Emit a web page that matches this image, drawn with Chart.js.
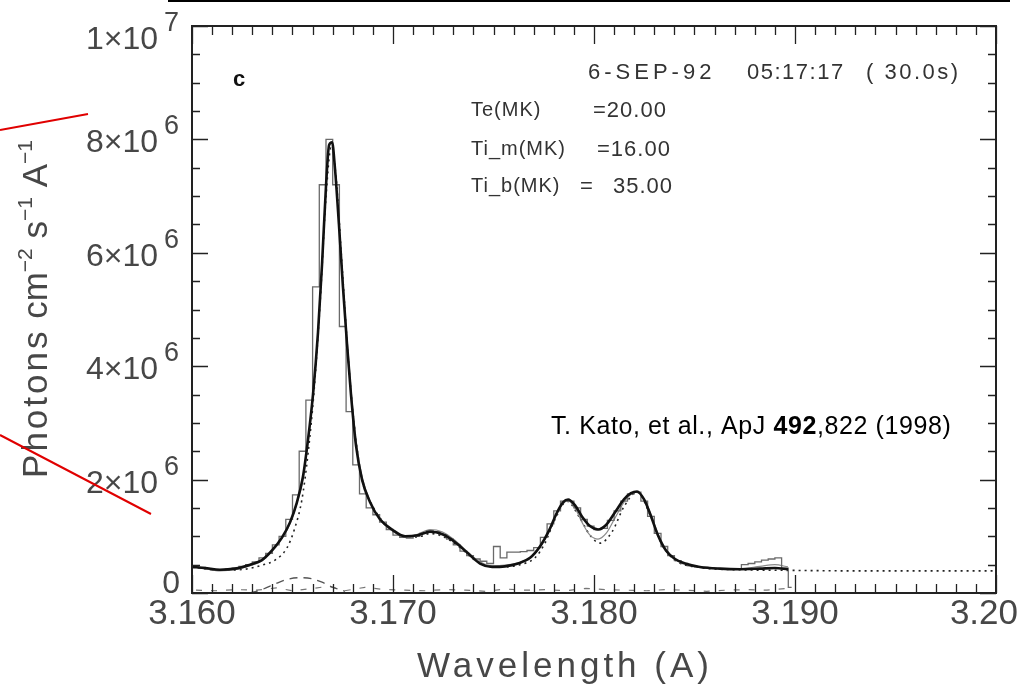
<!DOCTYPE html>
<html>
<head>
<meta charset="utf-8">
<title>Ca XIX spectrum</title>
<script src="https://cdn.jsdelivr.net/npm/chart.js@4"></script>
<style>
  body { margin: 0; background: #fff; }
  canvas { display: block; }
</style>
</head>
<body>
<canvas id="chart" width="1030" height="691"></canvas>
<script>
// flux values are in units of 10^6 photons cm-2 s-1 A-1

// observed spectrum, one value per wavelength bin
var binStart = 3.1600;
var binWidth = 1 / 3000;
var observed = [
  0.46, 0.45, 0.42, 0.40, 0.40, 0.42, 0.44, 0.47, 0.50, 0.55,
  0.62, 0.70, 0.85, 1.00, 1.30, 1.73, 2.50, 3.40, 5.40, 7.20,
  8.00, 7.20, 4.70, 3.20, 2.26, 1.75, 1.50, 1.38, 1.25, 1.12,
  1.02, 0.98, 0.97, 1.00, 1.05, 1.10, 1.08, 1.03, 0.95, 0.85,
  0.74, 0.66, 0.60, 0.56, 0.52, 0.82, 0.62, 0.72, 0.72, 0.73,
  0.75, 0.80, 0.98, 1.22, 1.45, 1.62, 1.62, 1.50, 1.30, 1.18,
  1.12, 1.14, 1.28, 1.45, 1.62, 1.75, 1.78, 1.62, 1.35, 1.05,
  0.82, 0.66, 0.57, 0.52, 0.48, 0.46, 0.45, 0.44, 0.43, 0.42,
  0.42, 0.42, 0.50, 0.52, 0.55, 0.58, 0.60, 0.62, 0.44, 0.10
];

// fitted model (thick) and the second model (thin), same wavelength grid
var modelWave = [
  3.16000, 3.16065, 3.16139, 3.16214, 3.16289, 3.16348, 3.16398, 3.16448, 3.16488, 3.16522,
  3.16552, 3.16577, 3.16602, 3.16627, 3.16647, 3.16667, 3.16682, 3.16697, 3.16711, 3.16731,
  3.16751, 3.16771, 3.16791, 3.16816, 3.16846, 3.16886, 3.16935, 3.16995, 3.17060, 3.17124,
  3.17184, 3.17244, 3.17308, 3.17373, 3.17433, 3.17493, 3.17557, 3.17622, 3.17682, 3.17731,
  3.17776, 3.17816, 3.17846, 3.17871, 3.17905, 3.17940, 3.17980, 3.18020, 3.18060, 3.18104,
  3.18149, 3.18184, 3.18214, 3.18249, 3.18284, 3.18318, 3.18358, 3.18403, 3.18453, 3.18527,
  3.18627, 3.18726, 3.18826, 3.18900, 3.18965
];
var fitFlux = [
  0.46, 0.44, 0.41, 0.43, 0.50, 0.58, 0.75, 0.98, 1.25, 1.60,
  2.05, 2.70, 3.50, 4.60, 5.80, 7.20, 7.90, 7.95, 7.50, 6.50,
  5.40, 4.40, 3.50, 2.60, 2.00, 1.60, 1.30, 1.12, 1.00, 1.02,
  1.08, 1.04, 0.90, 0.70, 0.52, 0.46, 0.47, 0.52, 0.62, 0.82,
  1.10, 1.42, 1.60, 1.65, 1.55, 1.35, 1.18, 1.12, 1.20, 1.42,
  1.65, 1.76, 1.79, 1.65, 1.35, 1.02, 0.75, 0.60, 0.52, 0.46,
  0.43, 0.42, 0.43, 0.44, 0.42
];
var altFlux = [
  0.46, 0.43, 0.39, 0.41, 0.48, 0.57, 0.73, 0.96, 1.22, 1.58,
  2.00, 2.65, 3.45, 4.55, 5.75, 7.15, 7.90, 7.95, 7.50, 6.55,
  5.50, 4.50, 3.60, 2.70, 2.05, 1.62, 1.30, 1.10, 0.98, 1.04,
  1.12, 1.08, 0.93, 0.72, 0.55, 0.48, 0.49, 0.53, 0.62, 0.80,
  1.08, 1.40, 1.58, 1.63, 1.50, 1.25, 1.02, 0.95, 1.05, 1.32,
  1.60, 1.74, 1.78, 1.66, 1.38, 1.05, 0.77, 0.60, 0.52, 0.46,
  0.43, 0.43, 0.47, 0.50, 0.46
];

// dotted model, continues as the continuum level to the right edge
var dotWave = [
  3.16000, 3.16139, 3.16264, 3.16348, 3.16413, 3.16473, 3.16512, 3.16547, 3.16577, 3.16607,
  3.16637, 3.16667, 3.16692, 3.16716, 3.16746, 3.16776, 3.16806, 3.16846, 3.16896, 3.16960,
  3.17035, 3.17124, 3.17184, 3.17259, 3.17333, 3.17408, 3.17483, 3.17557, 3.17632, 3.17706,
  3.17756, 3.17806, 3.17866, 3.17930, 3.17980, 3.18030, 3.18090, 3.18149, 3.18214, 3.18279,
  3.18338, 3.18403, 3.18527, 3.18726, 3.18950, 3.19323, 3.19672, 3.20000
];
var dotFlux = [
  0.46, 0.40, 0.42, 0.49, 0.58, 0.80, 1.15, 1.65, 2.45, 3.55,
  5.10, 7.00, 7.85, 7.35, 5.80, 4.20, 3.00, 2.00, 1.55, 1.22,
  1.02, 0.99, 1.05, 0.98, 0.80, 0.58, 0.47, 0.46, 0.50, 0.62,
  0.88, 1.30, 1.62, 1.32, 1.02, 0.88, 1.08, 1.52, 1.78, 1.38,
  0.86, 0.58, 0.45, 0.41, 0.40, 0.39, 0.39, 0.39
];

// dashed satellite component under the resonance line
var dashWave = [3.16289, 3.16348, 3.16413, 3.16473, 3.16537, 3.16597, 3.16647, 3.16701, 3.16761];
var dashFlux = [0.00, 0.06, 0.16, 0.24, 0.27, 0.25, 0.19, 0.10, 0.03];

// residuals along the baseline
var residWave = [
  3.1602, 3.1612, 3.1622, 3.1632, 3.1642, 3.1650, 3.1660, 3.1668, 3.1676, 3.1686,
  3.1696, 3.1706, 3.1716, 3.1726, 3.1736, 3.1746, 3.1756, 3.1766, 3.1776, 3.1786,
  3.1796, 3.1806, 3.1816, 3.1826, 3.1836, 3.1846, 3.1856, 3.1866, 3.1876, 3.1886, 3.1896
];
var residFlux = [
  0.05, 0.04, 0.06, 0.05, 0.09, 0.04, 0.08, 0.12, 0.04, 0.10,
  0.06, 0.05, 0.04, 0.06, 0.05, 0.03, 0.07, 0.05, 0.06, 0.04,
  0.08, 0.06, 0.05, 0.04, 0.06, 0.05, 0.03, 0.05, 0.06, 0.05, 0.08
];

var xTickLabels = ['3.160', '3.170', '3.180', '3.190', '3.20'];
var xTickValues = [3.16, 3.17, 3.18, 3.19, 3.20];
var yTickValues = [0, 2, 4, 6, 8, 10];

var FONT = '"Liberation Sans", Arial, sans-serif';

function pairs(xs, ys) {
  return ys.map(function (y, i) { return { x: xs[i], y: y }; });
}

// draw a row of text pieces (for superscripts); align: left/center/right
function drawRuns(ctx, runs, x, y, align, spacing) {
  var total = 0;
  runs.forEach(function (r) {
    ctx.font = (r.bold ? 'bold ' : '') + r.size + 'px ' + FONT;
    ctx.letterSpacing = (r.sp != null ? r.sp : (spacing || 0)) + 'px';
    r.w = ctx.measureText(r.t).width;
    total += r.w;
  });
  var cx = align === 'right' ? x - total : align === 'center' ? x - total / 2 : x;
  ctx.textAlign = 'left';
  ctx.textBaseline = 'alphabetic';
  runs.forEach(function (r) {
    ctx.font = (r.bold ? 'bold ' : '') + r.size + 'px ' + FONT;
    ctx.letterSpacing = (r.sp != null ? r.sp : (spacing || 0)) + 'px';
    ctx.fillText(r.t, cx, y + (r.dy || 0));
    cx += r.w;
  });
  ctx.letterSpacing = '0px';
}

var framePlugin = {
  id: 'frame',
  afterDraw: function (chart) {
    var ctx = chart.ctx;
    var a = chart.chartArea;
    var xs = chart.scales.x, ys = chart.scales.y;
    ctx.save();

    // box and inward ticks
    ctx.strokeStyle = '#222';
    ctx.lineWidth = 2;
    ctx.strokeRect(a.left, a.top, a.right - a.left, a.bottom - a.top);
    ctx.lineWidth = 1.3;
    ctx.beginPath();
    for (var i = 0; i <= 40; i++) {
      var px = Math.round(xs.getPixelForValue(3.16 + i * 0.001)) + 0.5;
      var len = i % 10 === 0 ? 18 : 9;
      ctx.moveTo(px, a.bottom); ctx.lineTo(px, a.bottom - len);
      ctx.moveTo(px, a.top); ctx.lineTo(px, a.top + len);
    }
    for (var j = 0; j <= 20; j++) {
      var py = Math.round(ys.getPixelForValue(j * 0.5)) + 0.5;
      var ylen = j % 4 === 0 ? 16 : 8;
      ctx.moveTo(a.left, py); ctx.lineTo(a.left + ylen, py);
      ctx.moveTo(a.right, py); ctx.lineTo(a.right - ylen, py);
    }
    ctx.stroke();

    // tick labels
    ctx.fillStyle = '#474747';
    xTickValues.forEach(function (v, k) {
      var px = xs.getPixelForValue(v);
      var last = k === xTickValues.length - 1;
      drawRuns(ctx, [{ t: xTickLabels[k], size: 35 }], last ? chart.width - 12 : px, 624, last ? 'right' : 'center');
    });
    yTickValues.forEach(function (v) {
      var py = ys.getPixelForValue(v);
      var cy = Math.min(Math.max(py + 2, 38), 582);
      if (v === 0) {
        drawRuns(ctx, [{ t: '0', size: 32 }], 180, cy + 11, 'right');
        return;
      }
      var mant = v === 10 ? '1' : String(v);
      var exp = v === 10 ? '7' : '6';
      drawRuns(ctx, [{ t: mant + '\u00d710', size: 32 }], 158, cy + 11, 'right');
      drawRuns(ctx, [{ t: exp, size: 27 }], 164, cy - 7, 'left');
    });

    // axis titles
    drawRuns(ctx, [{ t: 'Wavelength (A)', size: 35 }], 565, 677, 'center', 4);
    ctx.save();
    ctx.translate(47, 309);
    ctx.rotate(-Math.PI / 2);
    drawRuns(ctx, [
      { t: 'Photons', size: 35, sp: 3 },
      { t: ' cm', size: 35 },
      { t: '\u22122', size: 21, dy: -15 },
      { t: ' s', size: 35 },
      { t: '\u22121', size: 21, dy: -15 },
      { t: ' A', size: 35 },
      { t: '\u22121', size: 21, dy: -15 }
    ], 0, 0, 'center', 0);
    ctx.restore();

    // panel label and fit parameters
    ctx.fillStyle = '#111';
    drawRuns(ctx, [{ t: 'c', size: 22, bold: true }], 233, 86, 'left');
    ctx.fillStyle = '#333';
    drawRuns(ctx, [{ t: '6-SEP-92', size: 22 }], 588, 79, 'left', 4);
    drawRuns(ctx, [{ t: '05:17:17', size: 22 }], 747, 79, 'left', 1.5);
    drawRuns(ctx, [{ t: '( 30.0s)', size: 22 }], 866, 79, 'left', 2.5);
    drawRuns(ctx, [{ t: 'Te(MK)', size: 20 }], 471, 116, 'left', 1);
    drawRuns(ctx, [{ t: '=20.00', size: 22 }], 593, 117, 'left', 1);
    drawRuns(ctx, [{ t: 'Ti_m(MK)', size: 20 }], 471, 155, 'left', 1);
    drawRuns(ctx, [{ t: '=16.00', size: 22 }], 597, 156, 'left', 1);
    drawRuns(ctx, [{ t: 'Ti_b(MK)', size: 20 }], 471, 192, 'left', 1);
    drawRuns(ctx, [{ t: '=', size: 22 }], 580, 193, 'left', 1);
    drawRuns(ctx, [{ t: '35.00', size: 22 }], 613, 193, 'left', 1);

    // reference
    ctx.fillStyle = '#000';
    drawRuns(ctx, [
      { t: 'T. Kato, et al., ApJ ', size: 25 },
      { t: '492', size: 25, bold: true },
      { t: ',822 (1998)', size: 25 }
    ], 551, 434, 'left', 0.6);

    // pointer lines and rule
    ctx.strokeStyle = '#e00000';
    ctx.lineWidth = 2;
    ctx.beginPath();
    ctx.moveTo(0, 130); ctx.lineTo(88, 114);
    ctx.moveTo(0, 435); ctx.lineTo(151, 514);
    ctx.stroke();
    ctx.strokeStyle = '#000';
    ctx.beginPath();
    ctx.moveTo(168, 1); ctx.lineTo(1010, 1);
    ctx.stroke();

    ctx.restore();
  }
};

var ctx = document.getElementById('chart');
new Chart(ctx, {
  type: 'line',
  data: {
    datasets: [
      {
        label: 'fit',
        data: pairs(modelWave, fitFlux),
        borderColor: '#111',
        borderWidth: 2.6,
        cubicInterpolationMode: 'monotone',
        order: 1
      },
      {
        label: 'observed',
        data: observed.map(function (v, i) { return { x: binStart + (i + 0.5) * binWidth, y: v }; }),
        borderColor: '#6a6a6a',
        borderWidth: 1.3,
        stepped: 'middle',
        order: 2
      },
      {
        label: 'model 2',
        data: pairs(modelWave, altFlux),
        borderColor: '#8a8a8a',
        borderWidth: 1.2,
        cubicInterpolationMode: 'monotone',
        order: 3
      },
      {
        label: 'model 3',
        data: pairs(dotWave, dotFlux),
        borderColor: '#222',
        borderWidth: 1.6,
        borderDash: [2, 4],
        cubicInterpolationMode: 'monotone',
        order: 4
      },
      {
        label: 'satellite',
        data: pairs(dashWave, dashFlux),
        borderColor: '#555',
        borderWidth: 1.3,
        borderDash: [8, 6],
        cubicInterpolationMode: 'monotone',
        order: 5
      },
      {
        label: 'residual',
        data: pairs(residWave, residFlux),
        borderColor: '#777',
        borderWidth: 1.2,
        borderDash: [6, 9],
        order: 6
      }
    ]
  },
  options: {
    responsive: false,
    animation: false,
    layout: { padding: { left: 192, top: 26, right: 34, bottom: 98 } },
    elements: { point: { radius: 0 } },
    plugins: { legend: { display: false }, tooltip: { enabled: false } },
    scales: {
      x: { type: 'linear', min: 3.16, max: 3.20, display: false },
      y: { min: 0, max: 10, display: false }
    }
  },
  plugins: [framePlugin]
});
</script>
</body>
</html>
